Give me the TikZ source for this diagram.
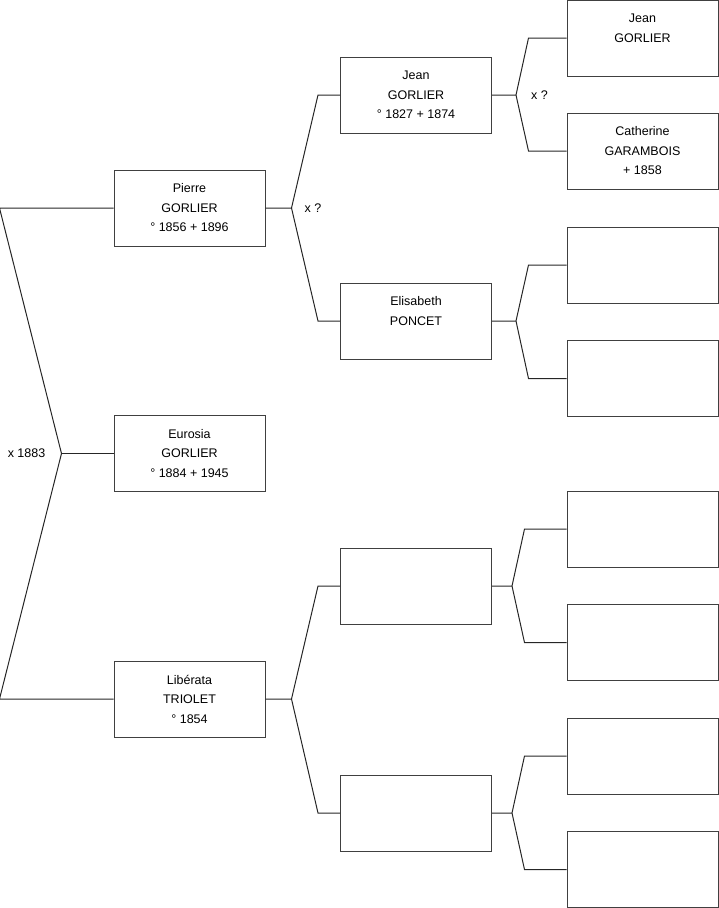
\documentclass[tikz,border=0pt]{standalone}
\usepackage{fontspec}
\setmainfont{Liberation Sans}
\usetikzlibrary{positioning,calc}

\begin{document}
\begin{tikzpicture}[
        x=1pt, y=-1pt,
        font=\fontsize{12.5}{19.5}\selectfont,
        person/.style={draw=black!75, line width=1pt, align=center, minimum width=151pt, minimum height=76pt, inner sep=0pt},
        link/.style={draw=black!85, line width=1pt},
        mariage/.style={inner sep=1pt}
    ]
        \useasboundingbox (0,0) rectangle (719,908);

        % generation 1
        \node[person] (eurosia) at (189.5,453.5) {Eurosia\\GORLIER\\° 1884 + 1945};

        % generation 2
        \node[person] (pierre) at (189.5,208) {Pierre\\GORLIER\\° 1856 + 1896};
        \node[person] (liberata) at (189.5,699) {Libérata\\TRIOLET\\° 1854};

        % generation 3
        \node[person] (jean) at (416,95) {Jean\\GORLIER\\° 1827 + 1874};
        \node[person] (elisabeth) at (416,321) {Elisabeth\\PONCET\\\phantom{G}};
        \node[person] (pereL) at (416,586) {};
        \node[person] (mereL) at (416,813) {};

        % generation 4
        \node[person] (jeanP) at (642.5,38) {Jean\\GORLIER\\\phantom{G}};
        \node[person] (catherine) at (642.5,151) {Catherine\\GARAMBOIS\\ + 1858};
        \node[person] (pereE) at (642.5,265) {};
        \node[person] (mereE) at (642.5,378.5) {};
        \node[person] (pereLP) at (642.5,529) {};
        \node[person] (mereLP) at (642.5,642.5) {};
        \node[person] (pereLM) at (642.5,756) {};
        \node[person] (mereLM) at (642.5,869.5) {};

        % forks
        \coordinate (m0) at ([xshift=-52pt]eurosia.west);
        \draw[link] (pierre.west) -- ([xshift=-114pt]pierre.west) -- (m0) -- ([xshift=-114pt]liberata.west) -- (liberata.west);
        \draw[link] (m0) -- (eurosia.west);
        \node[mariage, left=15pt of m0] (x0) {x 1883};

        \coordinate (m1) at ([xshift=26pt]pierre.east);
        \draw[link] (pierre.east) -- (m1) -- ([xshift=-22pt]jean.west) -- (jean.west);
        \draw[link] (m1) -- ([xshift=-22pt]elisabeth.west) -- (elisabeth.west);
        \node[mariage, right=12pt of m1] (x1) {x ?};

        \coordinate (m2) at ([xshift=26pt]liberata.east);
        \draw[link] (liberata.east) -- (m2) -- ([xshift=-22pt]pereL.west) -- (pereL.west);
        \draw[link] (m2) -- ([xshift=-22pt]mereL.west) -- (mereL.west);

        \coordinate (m3) at ([xshift=24pt]jean.east);
        \draw[link] (jean.east) -- (m3) -- ([xshift=-38pt]jeanP.west) -- (jeanP.west);
        \draw[link] (m3) -- ([xshift=-38pt]catherine.west) -- (catherine.west);
        \node[mariage, right=14pt of m3] (x3) {x ?};

        \coordinate (m4) at ([xshift=24pt]elisabeth.east);
        \draw[link] (elisabeth.east) -- (m4) -- ([xshift=-38pt]pereE.west) -- (pereE.west);
        \draw[link] (m4) -- ([xshift=-38pt]mereE.west) -- (mereE.west);

        \coordinate (m5) at ([xshift=20pt]pereL.east);
        \draw[link] (pereL.east) -- (m5) -- ([xshift=-42pt]pereLP.west) -- (pereLP.west);
        \draw[link] (m5) -- ([xshift=-42pt]mereLP.west) -- (mereLP.west);

        \coordinate (m6) at ([xshift=20pt]mereL.east);
        \draw[link] (mereL.east) -- (m6) -- ([xshift=-42pt]pereLM.west) -- (pereLM.west);
        \draw[link] (m6) -- ([xshift=-42pt]mereLM.west) -- (mereLM.west);
    \end{tikzpicture}
\end{document}
